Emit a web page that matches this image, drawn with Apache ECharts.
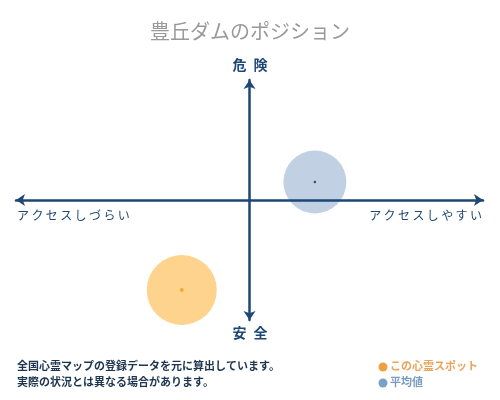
<!DOCTYPE html>
<html>
<head>
<meta charset="utf-8">
<script src="https://cdn.jsdelivr.net/npm/echarts@6/dist/echarts.min.js"></script>
<style>
  html, body { margin: 0; padding: 0; background: #fff; }
  #chart { width: 500px; height: 400px; }
</style>
</head>
<body>
<div id="chart"></div>
<script>
// position values: [access, danger] on a -1..1 scale
const spotPoint = [-0.29, -0.75];
const averagePoint = [0.28, 0.15];
const spotSize = 70;
const averageSize = 63;

const titleText = '豊丘ダムのポジション';
const axisLabels = { top: '危\u2002険', bottom: '安\u2002全', left: 'アクセスしづらい', right: 'アクセスしやすい' };
const noteLines = ['全国心霊マップの登録データを元に算出しています。', '実際の状況とは異なる場合があります。'];
const legendNames = ['この心霊スポット', '平均値'];

const font = '"Noto Sans CJK JP", sans-serif';
const navy = '#1d4775';

const chart = echarts.init(document.getElementById('chart'));

// hidden axis settings shared by both axes, drawn above the circles
function axis(extra) {
  return Object.assign({
    type: 'value',
    min: -1,
    max: 1,
    z: 5,
    axisLabel: { show: false },
    axisTick: { show: false },
    splitLine: { show: false },
    axisLine: {
      onZero: true,
      symbol: ['arrow', 'arrow'],
      symbolSize: [9, 9],
      lineStyle: { color: navy, width: 2.5 }
    }
  }, extra);
}

function spaced(s) {
  return s.split('').join('\u2009');
}

chart.setOption({
  animation: false,
  textStyle: { fontFamily: font },
  title: {
    text: titleText,
    left: 'center',
    top: 16,
    textStyle: { color: '#999', fontSize: 20, fontWeight: 'normal', fontFamily: font }
  },
  grid: { left: 16, right: 17, top: 80, bottom: 80 },
  xAxis: axis({}),
  yAxis: axis({}),
  series: [
    {
      type: 'scatter',
      data: [averagePoint],
      symbolSize: averageSize,
      itemStyle: { color: '#b1c4dc' },
      z: 1
    },
    {
      type: 'scatter',
      data: [spotPoint],
      symbolSize: spotSize,
      itemStyle: { color: '#fdc872' },
      z: 1
    },
    {
      type: 'scatter',
      data: [averagePoint],
      symbolSize: 2.5,
      itemStyle: { color: '#1a2a40' },
      z: 6
    },
    {
      type: 'scatter',
      data: [spotPoint],
      symbolSize: 4,
      itemStyle: { color: '#f0a020' },
      z: 6
    }
  ],
  graphic: [
    { type: 'text', left: 'center', top: 58, style: { text: axisLabels.top, font: 'bold 14px ' + font, fill: navy } },
    { type: 'text', left: 'center', top: 326, style: { text: axisLabels.bottom, font: 'bold 14px ' + font, fill: navy } },
    { type: 'text', left: 17, top: 209, style: { text: spaced(axisLabels.left), font: '12px ' + font, fill: navy } },
    { type: 'text', right: 18, top: 209, style: { text: spaced(axisLabels.right), font: '12px ' + font, fill: navy } },
    { type: 'text', left: 17, top: 360, style: { text: noteLines[0], font: 'bold 11px ' + font, fill: '#1e3550' } },
    { type: 'text', left: 17, top: 376, style: { text: noteLines[1], font: 'bold 11px ' + font, fill: '#1e3550' } },
    { type: 'circle', shape: { cx: 383, cy: 367, r: 4.5 }, style: { fill: '#f0a040' } },
    { type: 'text', left: 390, top: 360, style: { text: legendNames[0], font: 'bold 11px ' + font, fill: '#e8a45a' } },
    { type: 'circle', shape: { cx: 383, cy: 383, r: 4.5 }, style: { fill: '#7aa2c8' } },
    { type: 'text', left: 390, top: 376, style: { text: legendNames[1], font: 'bold 11px ' + font, fill: '#7a9cc0' } }
  ]
});
</script>
</body>
</html>
